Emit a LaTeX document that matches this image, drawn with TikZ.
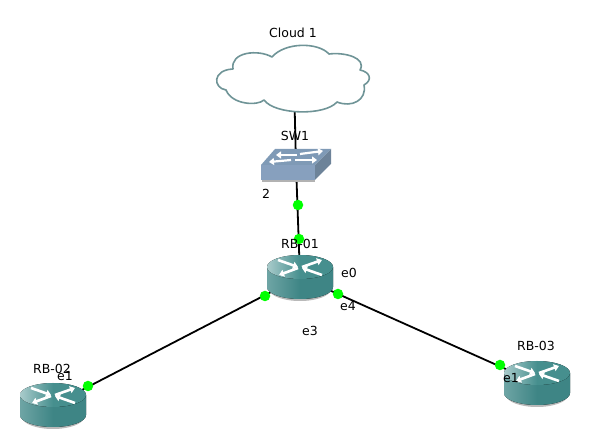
\documentclass[tikz,border=0pt]{standalone}
\usepackage{fontspec}
\setmainfont{DejaVu Sans}
\usetikzlibrary{arrows.meta}
\definecolor{routerside}{HTML}{3E8585}
\definecolor{routertop}{HTML}{468F8E}
\definecolor{routerglow}{HTML}{A9CBCB}
\definecolor{cloudline}{HTML}{6F9497}
\definecolor{swtop}{HTML}{7F9AB6}
\definecolor{swfront}{HTML}{87A0BE}
\definecolor{swside}{HTML}{6D8399}
\tikzset{
  devlabel/.style={font=\fontsize{12.5}{13}\selectfont,inner sep=0pt,text=black},
  linkdot/.style={circle,fill=green,inner sep=0pt,minimum size=10.5pt},
  wirelink/.style={line width=1.8pt,black},
  whitearrow/.style={line width=2.6pt,white,line cap=butt,-{Triangle[length=5pt,width=7pt]}},
  router/.pic={
    \fill[gray!55] (-31,10) -- (-31,12) arc[start angle=180,end angle=0,x radius=31,y radius=12] -- (33,10) -- cycle;
    \fill[left color=routerglow!45!routerside,right color=routerside,middle color=routerside] (-33,-10) -- (-33,10) arc[start angle=180,end angle=0,x radius=33,y radius=12] -- (33,-10) -- cycle;
    \fill[left color=routerglow,right color=routertop,middle color=routertop] (0,-10) ellipse[x radius=33,y radius=12];
    \draw[whitearrow] (22,-2) -- (2,-9);
    \draw[whitearrow] (-2,-9) -- (-21,-2);
    \draw[whitearrow] (2,-10) -- (22,-17);
    \draw[whitearrow] (-22,-17) -- (-2,-10);
  }
}
\begin{document}
\begin{tikzpicture}[x=1pt,y=-1pt,line cap=round,line join=round]
\useasboundingbox (0,0) rectangle (590,446);
\coordinate (cloud1) at (294,80);
\coordinate (sw1) at (296,165);
\coordinate (rb01) at (300,277);
\coordinate (rb02) at (53,405);
\coordinate (rb03) at (537,383);
% links
\draw[wirelink] (cloud1) -- (sw1);
\draw[wirelink] (sw1) -- (rb01);
\draw[wirelink] (rb01) -- (rb02);
\draw[wirelink] (rb01) -- (rb03);
% cloud
\draw[line width=1.6pt,cloudline,fill=white] (264,100)
  .. controls (275,115) and (325,116) .. (337,102)
  .. controls (352,108) and (367,100) .. (364,85)
  .. controls (373,80) and (370,72) .. (360,70)
  .. controls (367,58) and (345,52) .. (329,54)
  .. controls (318,42) and (285,42) .. (272,57)
  .. controls (258,49) and (230,52) .. (233,69)
  .. controls (212,70) and (213,88) .. (226,90)
  .. controls (232,105) and (258,106) .. (264,100);
% switch
\fill[gray!60] (262,180) -- (315,180) -- (315,182) -- (262,182) -- cycle;
\fill[swfront] (261,165) -- (315,165) -- (315,180) -- (261,180) -- cycle;
\fill[swside] (315,165) -- (331,149) -- (331,164) -- (315,180) -- cycle;
\fill[swtop] (261,165) -- (275,149) -- (331,149) -- (315,165) -- cycle;
\draw[whitearrow,line width=2.2pt] (297,155) -- (276,155);
\draw[whitearrow,line width=2.2pt] (300,154) -- (323,151);
\draw[whitearrow,line width=2.2pt] (291,160) -- (269,162);
\draw[whitearrow,line width=2.2pt] (295,160) -- (317,160);
% routers
\pic at (rb01) {router};
\pic at (rb02) {router};
\pic at (rb03) {router};
% link end points
\node[linkdot] (d1) at (298,205) {};
\node[linkdot] (d2) at (299,239) {};
\node[linkdot] (d3) at (265,296) {};
\node[linkdot] (d4) at (338,294) {};
\node[linkdot] (d5) at (88,386) {};
\node[linkdot] (d6) at (500,365) {};
% labels
\node[devlabel] (lcloud) at (293,33) {Cloud 1};
\node[devlabel] (lsw) at (295,136) {SW1};
\node[devlabel] (lr1) at (300,244) {RB-01};
\node[devlabel] (lr2) at (52,369) {RB-02};
\node[devlabel] (lr3) at (536,346) {RB-03};
\node[devlabel] (lp2) at (266,194) {2};
\node[devlabel] (le0) at (349,273) {e0};
\node[devlabel] (le4) at (348,306) {e4};
\node[devlabel] (le3) at (310,331) {e3};
\node[devlabel] (le1) at (65,376) {e1};
\node[devlabel] (lf1) at (511,378) {e1};
\end{tikzpicture}
\end{document}
